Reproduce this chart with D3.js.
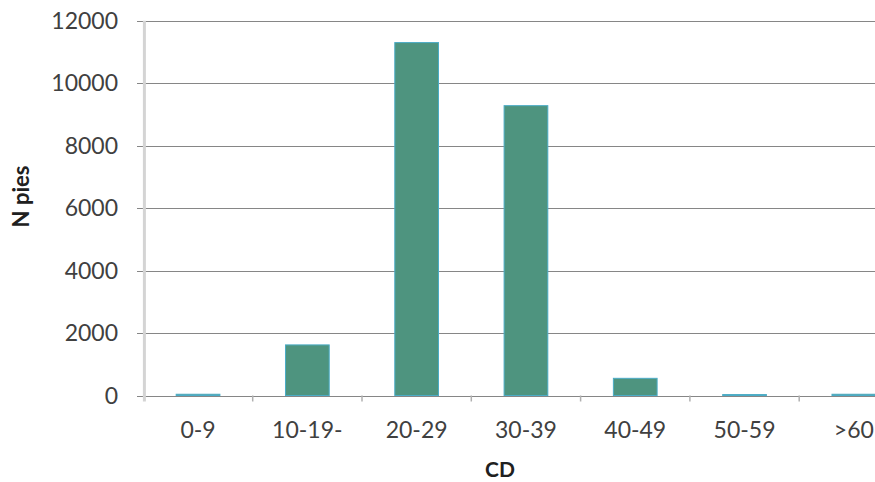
<!DOCTYPE html>
<html><head><meta charset="utf-8">
<script src="https://cdn.jsdelivr.net/npm/d3@7/dist/d3.min.js"></script>
<style>body{margin:0;background:#fff}svg{display:block}</style>
</head><body><svg id="c" width="875" height="482"></svg>
<script>
const categories = ["0-9","10-19-","20-29","30-39","40-49","50-59",">60"];
const values = [40, 1620, 11300, 9280, 550, 30, 40];
const yTicks = [0,2000,4000,6000,8000,10000,12000];

const svg = d3.select("#c");
const pL = 143.4, pR = 908.5, pT = 20.7, pB = 395.5;
const font = "Lato, 'Open Sans', sans-serif";

const x = d3.scaleBand().domain(categories).range([pL, pR]).paddingInner(0.6).paddingOuter(0.3);
const xb = d3.scaleBand().domain(categories).range([pL, pR]);
const y = d3.scaleLinear().domain([0,12000]).range([pB, pT]);

// gridlines
svg.append("g").selectAll("line").data(yTicks).join("line")
  .attr("x1", 137).attr("x2", 875)
  .attr("y1", d => Math.round(y(d))+0.5).attr("y2", d => Math.round(y(d))+0.5)
  .attr("stroke", "#868686").attr("stroke-width", 1);

// y axis line
svg.append("line").attr("x1", pL+1).attr("x2", pL+1).attr("y1", pT).attr("y2", pB+6)
  .attr("stroke", "#d4d4d4").attr("stroke-width", 3);

// x ticks
svg.append("g").selectAll("line").data(categories.slice(1)).join("line")
  .attr("x1", d => xb(d)).attr("x2", d => xb(d))
  .attr("y1", pB).attr("y2", pB+6)
  .attr("stroke", "#b0b0b0").attr("stroke-width", 1.5);

// bars
svg.append("g").selectAll("rect").data(values).join("rect")
  .attr("x", (d,i) => x(categories[i]))
  .attr("width", x.bandwidth())
  .attr("y", d => y(d))
  .attr("height", d => pB - y(d))
  .attr("fill", "#4e947f").attr("stroke", "#4bacc6").attr("stroke-width", 1);

// y tick labels
svg.append("g").selectAll("text").data(yTicks).join("text")
  .attr("x", 118).attr("y", d => y(d)).attr("dy", "0.35em")
  .attr("text-anchor", "end").attr("font-family", font).attr("font-size", 23)
  .attr("fill", "#404040").text(d => d);

// x tick labels
svg.append("g").selectAll("text").data(categories).join("text")
  .attr("x", d => xb(d) + xb.bandwidth()/2).attr("y", 430).attr("dy", "0.35em")
  .attr("text-anchor", "middle").attr("font-family", font).attr("font-size", 23)
  .attr("fill", "#404040").text(d => d);

// axis titles
svg.append("text").attr("transform", "translate(21,196.5) rotate(-90)")
  .attr("text-anchor", "middle").attr("dy", "0.35em")
  .attr("font-family", font).attr("font-weight", "bold").attr("font-size", 22)
  .attr("fill", "#202020").text("N pies");
svg.append("text").attr("x", 500).attr("y", 469.5).attr("dy", "0.36em")
  .attr("text-anchor", "middle")
  .attr("font-family", font).attr("font-weight", "bold").attr("font-size", 21)
  .attr("fill", "#202020").text("CD");
</script></body></html>
